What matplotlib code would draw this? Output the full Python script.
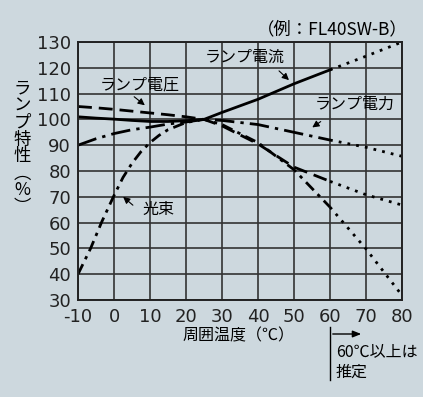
import matplotlib
matplotlib.use("Agg")
import matplotlib.pyplot as plt
import numpy as np

plt.rcParams['font.family'] = ['Noto Sans CJK JP', 'DejaVu Sans']

temps = [-10, -5, 0, 5, 10, 15, 20, 25, 30, 40, 50, 60, 70, 80]
current = [101.0, 100.5, 100.1, 99.6, 99.2, 99.2, 99.5, 100.0, 102.7, 107.8, 113.8, 119.2, 124.5, 130.0]
voltage = [105.0, 104.5, 103.9, 103.2, 102.5, 101.8, 101.0, 100.0, 97.5, 90.5, 81.5, 76.0, 70.8, 66.8]
power = [90.0, 92.5, 94.5, 96.0, 97.0, 98.2, 99.0, 100.0, 99.6, 98.0, 95.0, 92.0, 89.2, 85.7]
flux_temps = [-10, -6.5, -3.4, 0, 2.5, 5, 7.5, 10, 12.5, 15, 20, 25, 30, 40, 50, 60, 70, 80]
flux = [40.0, 50.0, 60.3, 70.5, 77.5, 83.0, 87.5, 91.0, 93.8, 96.0, 98.8, 100.0, 98.0, 91.0, 80.5, 66.0, 49.8, 31.8]

xticks = [-10, 0, 10, 20, 30, 40, 50, 60, 70, 80]
yticks = [30, 40, 50, 60, 70, 80, 90, 100, 110, 120, 130]
measured_limit = 60

bg = '#cdd8de'
W, H = 423, 397
fig = plt.figure(figsize=(W / 100, H / 100), dpi=100, facecolor=bg)
ax = fig.add_axes([78 / W, 1 - 300 / H, (402 - 78) / W, (300 - 42) / H], facecolor=bg)

ax.set_xlim(-10, 80)
ax.set_ylim(30, 130)
ax.set_xticks(xticks)
ax.set_yticks(yticks)
numfont = ['DejaVu Sans']
ax.set_xticklabels([str(t) for t in xticks], fontsize=13, family=numfont)
ax.set_yticklabels([str(t) for t in yticks], fontsize=13, family=numfont)
ax.tick_params(axis='x', length=0, pad=6, colors='#222222')
ax.tick_params(axis='y', length=0, pad=5, colors='#222222')
ax.grid(True, color='#333333', linewidth=1.2)
ax.set_axisbelow(True)
for s in ax.spines.values():
    s.set_color('#222222')
    s.set_linewidth(1.4)

def draw(tx, vals, style):
    tx = np.array(tx, dtype=float)
    vals = np.array(vals, dtype=float)
    m1 = tx <= measured_limit
    m2 = tx >= measured_limit
    ax.plot(tx[m1], vals[m1], color='black', lw=2.0, **style)
    ax.plot(tx[m2], vals[m2], color='black', lw=2.0, linestyle=(0, (1, 2.2)))

draw(temps, current, dict(linestyle='-'))
draw(temps, voltage, dict(linestyle=(0, (5, 2.5))))
draw(temps, power, dict(linestyle=(0, (7, 2.2, 1.2, 2.2))))
draw(flux_temps, flux, dict(linestyle=(0, (4, 2, 1.2, 2))))

fs = 11.5
def px(x, y):
    return (x / W, 1 - y / H)

fig.text(*px(408, 29), '（例：FL40SW-B）', fontsize=12.5, ha='right', va='center')
fig.text(*px(245, 57), 'ランプ電流', fontsize=fs, ha='center', va='center')
fig.text(*px(140, 85), 'ランプ電圧', fontsize=fs, ha='center', va='center')
fig.text(*px(355, 104), 'ランプ電力', fontsize=fs, ha='center', va='center')
fig.text(*px(158, 209), '光束', fontsize=fs, ha='center', va='center')

arrows = [((277, 69), (291, 82)), ((132, 95), (147, 107)), ((323, 120), (310, 129)), ((135, 207), (121, 195))]
for (x0, y0), (x1, y1) in arrows:
    fig.add_artist(matplotlib.patches.FancyArrowPatch(px(x0, y0), px(x1, y1), transform=fig.transFigure,
                   arrowstyle='-|>,head_length=4,head_width=2', color='black', lw=0.8))

ylabel = '\n'.join(['ラ', 'ン', 'プ', '特', '性', '︵', '%', '︶'])
fig.text(*px(22, 148), ylabel, fontsize=12.5, ha='center', va='center', linespacing=0.92)

fig.text(*px(238, 336), '周囲温度（℃）', fontsize=11.5, ha='center', va='center')

fig.add_artist(matplotlib.lines.Line2D([330 / W, 330 / W], [1 - 327 / H, 1 - 380 / H], color='black', lw=1.0, transform=fig.transFigure))
fig.add_artist(matplotlib.patches.FancyArrowPatch(px(330, 334), px(364, 334), transform=fig.transFigure,
               arrowstyle='-|>,head_length=5,head_width=2', color='black', lw=1.0))
fig.text(*px(336, 352), '60℃以上は', fontsize=11.5, ha='left', va='center')
fig.text(*px(336, 372), '推定', fontsize=11.5, ha='left', va='center')

fig.savefig('out.png', dpi=100, facecolor=bg)
